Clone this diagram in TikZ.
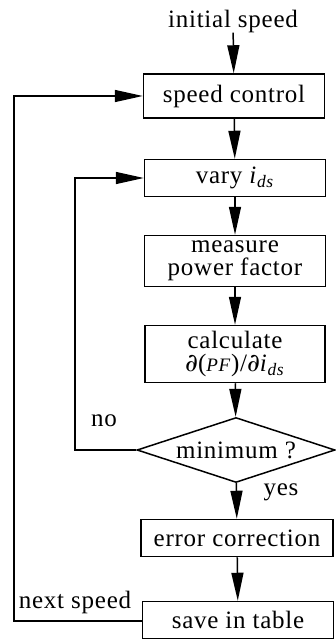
\documentclass[tikz,border=0pt]{standalone}
\usepackage{fontspec}
\setmainfont{Liberation Serif}[LetterSpace=3]
\newfontfamily\partfont{DejaVu Serif}
\usepackage{tikz}
\usetikzlibrary{positioning,arrows.meta,shapes.geometric,calc}

\begin{document}
\begin{tikzpicture}[x=1pt, y=-1pt,
  box/.style={draw, line width=1.5pt, inner sep=0pt, align=center, font=\fontsize{25}{25}\selectfont},
  cond/.style={draw, diamond, aspect=3, line width=1.5pt, inner sep=0pt, font=\fontsize{25}{25}\selectfont},
  arr/.style={-{Triangle[length=28pt, width=12pt]}, line width=1.5pt},
  lbl/.style={font=\fontsize{25}{25}\selectfont, inner sep=0pt},
]
\useasboundingbox (0,0) rectangle (335,639);
% Main chain
\node[lbl] (start) at (233, 21) {initial speed};
\node[box, minimum width=181pt, minimum height=44pt] (speed) at (234, 96) {speed control};
\node[box, minimum width=181pt, minimum height=37pt] (vary) at (235, 178) {vary \textit{i}\textsubscript{\textit{ds}}};
\node[box, minimum width=181pt, minimum height=51pt] (meas) at (235, 261) {measure\\[-2pt]power factor};
\node[box, minimum width=180pt, minimum height=57pt] (calc) at (235, 354) {calculate\\[-2pt]{\partfont ∂}({\fontsize{19}{19}\selectfont\textit{PF}})/{\partfont ∂}\textit{i}\textsubscript{\textit{ds}}};
\node[cond, minimum width=198pt, minimum height=65pt] (mini) at (236, 450) {minimum ?};
\node[box, minimum width=192pt, minimum height=37pt] (err) at (237, 538) {error correction};
\node[box, minimum width=191pt, minimum height=37pt] (save) at (238, 620) {save in table};
\draw[arr] (start) -- (speed);
\draw[arr] (speed) -- (vary);
\draw[arr] (vary) -- (meas);
\draw[arr] (meas) -- (calc);
\draw[arr] (calc) -- (mini);
\draw[arr] (mini) -- (err);
\draw[arr] (err) -- (save);
% Loops
\coordinate (noturn) at (75, 450);
\coordinate (nextturn) at (14, 621);
\draw[arr] (mini.west) -- (noturn) |- (vary.west);
\draw[arr] (save.west |- nextturn) -- (nextturn) |- (speed.west);
% Labels
\node[lbl] (no) at (104, 421) {no};
\node[lbl] (yes) at (281, 492) {yes};
\node[lbl] (next) at (75, 602) {next speed};
\end{tikzpicture}
\end{document}
